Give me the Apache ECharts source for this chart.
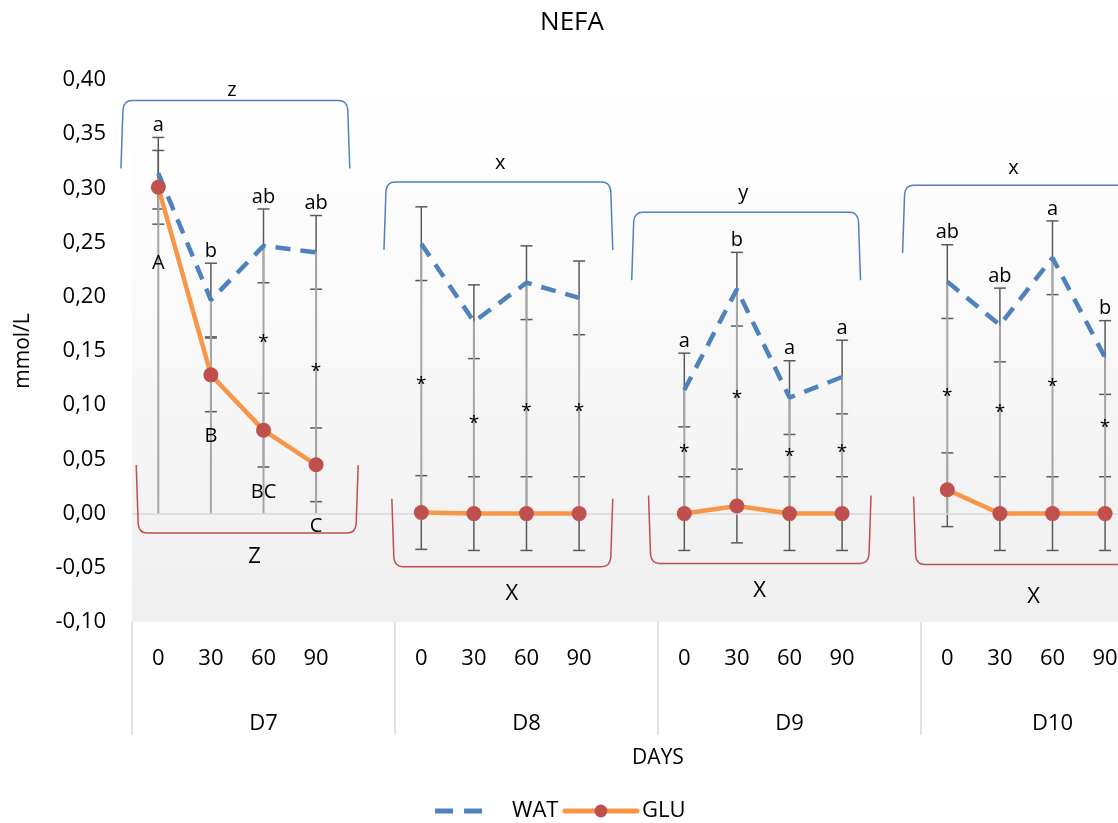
<!DOCTYPE html>
<html>
<head>
<meta charset="utf-8">
<title>NEFA</title>
<script src="https://cdn.jsdelivr.net/npm/echarts@6/dist/echarts.min.js"></script>
<style>
  html, body { margin: 0; padding: 0; background: #ffffff; }
  #chart { width: 1118px; height: 823px; }
</style>
</head>
<body>
<div id="chart"></div>
<script>
// ---- data (mmol/L) ----
const days = ['D7', 'D8', 'D9', 'D10'];
const minutes = ['0', '30', '60', '90'];

// WAT group: means and error (0, 30, 60, 90 min)
const watD7 = [0.314, 0.197, 0.247, 0.241];
const watD8 = [0.249, 0.177, 0.213, 0.199];
const watD9 = [0.114, 0.207, 0.107, 0.126];
const watD10 = [0.214, 0.174, 0.236, 0.144];
const watErrD7 = [0.033, 0.034, 0.034, 0.034];
const watErrD8 = [0.034, 0.034, 0.034, 0.034];
const watErrD9 = [0.034, 0.034, 0.034, 0.034];
const watErrD10 = [0.034, 0.034, 0.034, 0.034];

// GLU group: means and error
const gluD7 = [0.301, 0.128, 0.077, 0.045];
const gluD8 = [0.001, 0.000, 0.000, 0.000];
const gluD9 = [0.000, 0.007, 0.000, 0.000];
const gluD10 = [0.022, 0.000, 0.000, 0.000];
const gluErrD7 = [0.034, 0.034, 0.034, 0.034];
const gluErrD8 = [0.034, 0.034, 0.034, 0.034];
const gluErrD9 = [0.034, 0.034, 0.034, 0.034];
const gluErrD10 = [0.034, 0.034, 0.034, 0.034];

// significance letters within each day
const watLettersD7 = ['a', 'b', 'ab', 'ab'];
const watLettersD8 = [null, null, null, null];
const watLettersD9 = ['a', 'b', 'a', 'a'];
const watLettersD10 = ['ab', 'ab', 'a', 'b'];
const gluLettersD7 = ['A', 'B', 'BC', 'C'];
const gluLettersD8 = [null, null, null, null];
const gluLettersD9 = [null, null, null, null];
const gluLettersD10 = [null, null, null, null];

// level of the "*" marker (WAT vs GLU difference)
const starD7 = [null, null, 0.162, 0.136];
const starD8 = [0.124, 0.088, 0.099, 0.099];
const starD9 = [0.061, 0.111, 0.057, 0.061];
const starD10 = [0.113, 0.098, 0.122, 0.084];

// letters comparing days
const dayLettersWat = ['z', 'x', 'y', 'x'];
const dayLettersGlu = ['Z', 'X', 'X', 'X'];

// ---- build series data on a 20-slot category axis (4 times + 1 spacer per day) ----
const SLOTS = 5;
const wat = [watD7, watD8, watD9, watD10];
const watErr = [watErrD7, watErrD8, watErrD9, watErrD10];
const glu = [gluD7, gluD8, gluD9, gluD10];
const gluErr = [gluErrD7, gluErrD8, gluErrD9, gluErrD10];
const watLetters = [watLettersD7, watLettersD8, watLettersD9, watLettersD10];
const gluLetters = [gluLettersD7, gluLettersD8, gluLettersD9, gluLettersD10];
const stars = [starD7, starD8, starD9, starD10];

const slotLabels = [];
const watLine = [];
const gluLine = [];
const errorBars = [];
const hiLow = [];
const texts = [];      // [slot, value]
const textInfo = [];   // parallel: {text, kind}

days.forEach((d, di) => {
  minutes.forEach((m, ti) => {
    const s = di * SLOTS + ti;
    const w = wat[di][ti], we = watErr[di][ti];
    const g = glu[di][ti], ge = gluErr[di][ti];
    slotLabels.push(m);
    watLine.push(w);
    gluLine.push(g);
    errorBars.push([s, w - we, w + we]);
    errorBars.push([s, g - ge, g + ge]);
    hiLow.push([s, Math.min(0, w, g), Math.max(w, g)]);
    if (watLetters[di][ti]) {
      texts.push([s, w + we]);
      textInfo.push({ text: watLetters[di][ti], kind: 'above' });
    }
    if (gluLetters[di][ti]) {
      texts.push([s, g - ge]);
      textInfo.push({ text: gluLetters[di][ti], kind: gluLetters[di][ti] === 'A' ? 'belowFar' : 'below' });
    }
    if (stars[di][ti] !== null) {
      texts.push([s, stars[di][ti]]);
      textInfo.push({ text: '*', kind: 'star' });
    }
  });
  slotLabels.push('');
  watLine.push(null);
  gluLine.push(null);
});

// ---- bracket layout per day (positions in slot units from the day's first slot) ----
const upperBracket = [
  { level: 0.381, from: -0.71, to: 3.64, textAt: 1.40, textGap: 10 },
  { level: 0.306, from: -0.71, to: 3.64, textAt: 1.50, textGap: 19 },
  { level: 0.278, from: -1.00, to: 3.35, textAt: 1.12, textGap: 19 },
  { level: 0.303, from: -0.85, to: 3.70, textAt: 1.26, textGap: 17 }
];
const lowerBracket = [
  { level: -0.018, from: -0.42, to: 3.80, textAt: 1.83, textGap: 24 },
  { level: -0.049, from: -0.56, to: 3.64, textAt: 1.72, textGap: 27 },
  { level: -0.046, from: -0.68, to: 3.55, textAt: 1.43, textGap: 27 },
  { level: -0.047, from: -0.64, to: 3.70, textAt: 1.64, textGap: 32 }
];
const bracketData = days.map((d, di) => [di * SLOTS, 0]);

const FONT = '"Open Sans", "Noto Sans", sans-serif';
const fmt = v => v.toFixed(2).replace('.', ',');

function errorBarItem(params, api) {
  const p1 = api.coord([api.value(0), api.value(2)]);
  const p0 = api.coord([api.value(0), api.value(1)]);
  const x = p1[0], half = 6;
  const style = { stroke: '#5a5a5a', lineWidth: 1.5 };
  return {
    type: 'group',
    children: [
      { type: 'line', shape: { x1: x, y1: p1[1], x2: x, y2: p0[1] }, style },
      { type: 'line', shape: { x1: x - half, y1: p1[1], x2: x + half, y2: p1[1] }, style },
      { type: 'line', shape: { x1: x - half, y1: p0[1], x2: x + half, y2: p0[1] }, style }
    ]
  };
}

function hiLowItem(params, api) {
  const p1 = api.coord([api.value(0), api.value(2)]);
  const p0 = api.coord([api.value(0), api.value(1)]);
  return {
    type: 'line',
    shape: { x1: p1[0], y1: p1[1], x2: p0[0], y2: p0[1] },
    style: { stroke: '#a6a6a6', lineWidth: 2 }
  };
}

function textItem(params, api) {
  const info = textInfo[params.dataIndex];
  const p = api.coord([api.value(0), api.value(1)]);
  let y = p[1], va = 'middle', size = 20;
  if (info.kind === 'above') { y = p[1] - 2; va = 'bottom'; }
  else if (info.kind === 'below') { y = p[1] + 15; va = 'top'; }
  else if (info.kind === 'belowFar') { y = p[1] + 29; va = 'top'; }
  else if (info.kind === 'star') { y = p[1] + 5; size = 19; }
  return {
    type: 'text',
    x: p[0], y: y,
    style: { text: info.text, align: 'center', verticalAlign: va, font: size + 'px ' + FONT, fill: '#000' }
  };
}

function bracketItem(params, api) {
  const di = params.dataIndex;
  const s0 = api.value(0);
  const a = api.coord([s0, 0]);
  const b = api.coord([s0 + 1, 0]);
  const step = b[0] - a[0];
  const xAt = f => a[0] + f * step;
  const up = upperBracket[di], lo = lowerBracket[di];
  const arm = 68, r = 9;

  const yt = api.coord([s0, up.level])[1];
  const ux0 = xAt(up.from), ux1 = xAt(up.to);
  const upPath = `M${ux0} ${yt + arm} L${ux0 + 2} ${yt + r} Q${ux0 + 3} ${yt} ${ux0 + r + 2} ${yt} ` +
    `L${ux1 - r - 2} ${yt} Q${ux1 - 3} ${yt} ${ux1 - 2} ${yt + r} L${ux1} ${yt + arm}`;

  const yb = api.coord([s0, lo.level])[1];
  const lx0 = xAt(lo.from), lx1 = xAt(lo.to);
  const loPath = `M${lx0} ${yb - arm} L${lx0 + 2} ${yb - r} Q${lx0 + 3} ${yb} ${lx0 + r + 2} ${yb} ` +
    `L${lx1 - r - 2} ${yb} Q${lx1 - 3} ${yb} ${lx1 - 2} ${yb - r} L${lx1} ${yb - arm}`;

  return {
    type: 'group',
    children: [
      { type: 'path', shape: { pathData: upPath }, style: { stroke: '#4f81bd', lineWidth: 1.5, fill: null } },
      { type: 'path', shape: { pathData: loPath }, style: { stroke: '#c0504d', lineWidth: 1.5, fill: null } },
      { type: 'text', x: xAt(up.textAt), y: yt - up.textGap,
        style: { text: dayLettersWat[di], align: 'center', verticalAlign: 'middle', font: '20px ' + FONT, fill: '#000' } },
      { type: 'text', x: xAt(lo.textAt), y: yb + lo.textGap,
        style: { text: dayLettersGlu[di], align: 'center', verticalAlign: 'middle', font: '22px ' + FONT, fill: '#000' } }
    ]
  };
}

const chart = echarts.init(document.getElementById('chart'), null, { renderer: 'canvas' });

chart.setOption({
  animation: false,
  backgroundColor: '#ffffff',
  textStyle: { fontFamily: FONT },
  graphic: [{
    type: 'text', x: 572, y: 23,
    style: { text: 'NEFA', align: 'center', verticalAlign: 'middle', font: '26px ' + FONT, fill: '#000' }
  }],
  legend: {
    data: [
      { name: 'WAT', itemStyle: { opacity: 0 }, lineStyle: { width: 5, type: [18, 11, 18, 25], cap: 'butt' } },
      { name: 'GLU', lineStyle: { width: 5, cap: 'round' } }
    ],
    left: 'center',
    top: 795,
    itemWidth: 72,
    itemHeight: 16,
    itemGap: 4,
    textStyle: { fontSize: 22, color: '#000', fontFamily: FONT }
  },
  grid: {
    left: 132, top: 80, width: 1052, height: 542,
    outerBoundsMode: 'none',
    containLabel: false,
    show: true,
    borderWidth: 0,
    backgroundColor: new echarts.graphic.LinearGradient(0, 0, 0, 1, [
      { offset: 0, color: '#ffffff' },
      { offset: 0.3, color: '#fcfcfc' },
      { offset: 1, color: '#efefef' }
    ])
  },
  xAxis: [{
    type: 'category',
    data: slotLabels,
    position: 'bottom',
    axisLine: { show: false },
    axisTick: { show: false },
    axisLabel: { interval: 0, margin: 26, fontSize: 22, color: '#000', fontFamily: FONT }
  }, {
    type: 'category',
    data: days,
    position: 'bottom',
    axisLine: { show: false },
    axisTick: { show: true, length: 113, lineStyle: { color: '#d9d9d9', width: 1.5 } },
    axisLabel: { interval: 0, margin: 91, fontSize: 22, color: '#000', fontFamily: FONT },
    name: 'DAYS',
    nameLocation: 'middle',
    nameGap: 126,
    nameTextStyle: { fontSize: 21, color: '#000', fontFamily: FONT }
  }],
  yAxis: {
    type: 'value',
    min: -0.1, max: 0.4, interval: 0.05,
    axisLine: { show: false },
    axisTick: { show: false },
    splitLine: { show: false },
    axisLabel: { formatter: fmt, fontSize: 22, margin: 26, color: '#000', fontFamily: FONT },
    name: 'mmol/L',
    nameLocation: 'middle',
    nameRotate: 90,
    nameGap: 98,
    nameTextStyle: { fontSize: 21, color: '#000', fontFamily: FONT }
  },
  series: [
    {
      name: 'zero', type: 'line', data: [], z: 1, silent: true,
      markLine: {
        silent: true, symbol: 'none', label: { show: false },
        lineStyle: { color: '#d9d9d9', width: 1.5, type: 'solid' },
        data: [{ yAxis: 0 }]
      }
    },
    {
      name: 'err', type: 'custom', renderItem: errorBarItem, data: errorBars,
      encode: { x: 0, y: [1, 2] }, z: 2, silent: true
    },
    {
      name: 'hilow', type: 'custom', renderItem: hiLowItem, data: hiLow,
      encode: { x: 0, y: [1, 2] }, z: 3, silent: true
    },
    {
      name: 'WAT', type: 'line', data: watLine, z: 5,
      symbol: 'none', connectNulls: false,
      lineStyle: { color: '#4f81bd', width: 4.5, type: [15, 10], cap: 'butt' },
      itemStyle: { color: '#4f81bd' }
    },
    {
      name: 'GLU', type: 'line', data: gluLine, z: 6,
      symbol: 'circle', symbolSize: 15, connectNulls: false,
      lineStyle: { color: '#f79646', width: 4.5 },
      itemStyle: { color: '#c0504d' }
    },
    {
      name: 'labels', type: 'custom', renderItem: textItem, data: texts,
      encode: { x: 0, y: 1 }, z: 7, silent: true
    },
    {
      name: 'brackets', type: 'custom', renderItem: bracketItem, data: bracketData,
      encode: { x: 0, y: 1 }, z: 8, silent: true
    }
  ]
});
</script>
</body>
</html>
